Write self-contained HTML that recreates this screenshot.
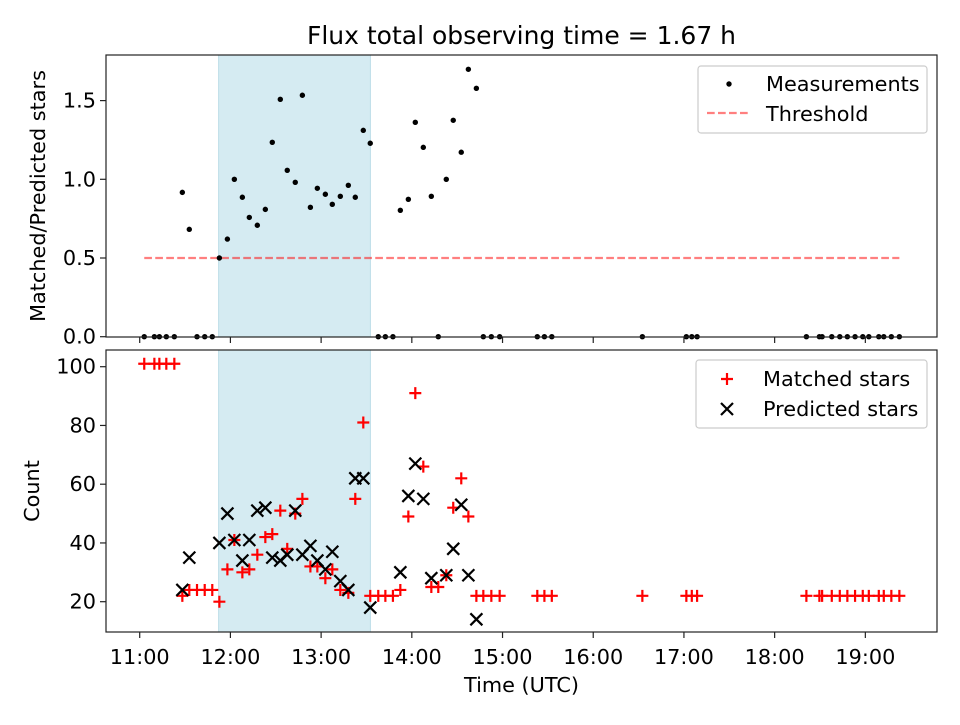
<!DOCTYPE html>
<html><head><meta charset="utf-8">
<style>
body{margin:0;background:#fff;}
svg text{font-family:"DejaVu Sans","Liberation Sans",sans-serif;fill:#000;}
</style></head>
<body>
<svg id="chart" width="960" height="720" xmlns="http://www.w3.org/2000/svg">
<rect width="960" height="720" fill="#fff"/>
<text x="521.5" y="44" font-size="25" text-anchor="middle">Flux total observing time = 1.67 h</text>
<g id="topPanel"></g>
<g id="botPanel"></g>
</svg>
<script>
// minutes since 11:00 UTC
const times = [3.0,9.7,13.0,17.6,22.9,28.2,32.8,37.9,43.0,48.0,52.7,58.0,62.6,67.9,72.5,77.8,83.1,87.7,93.0,97.6,102.9,107.6,112.9,117.5,122.8,127.4,132.7,138.0,142.6,147.9,152.5,157.8,162.5,167.5,172.4,177.7,182.3,187.6,192.9,197.5,202.8,207.4,212.7,217.4,222.7,227.3,232.6,238.1,263.0,267.7,272.6,332.5,361.6,365.2,368.7,441.0,449.6,451.4,457.8,463.1,468.1,473.2,478.3,482.3,488.9,492.2,497.2,502.5];
const ratios = [0,0,0,0,0,0.917,0.682,0,0,0,0.5,0.62,1.0,0.886,0.758,0.708,0.809,1.235,1.508,1.057,0.981,1.534,0.822,0.943,0.905,0.841,0.892,0.962,0.886,1.311,1.229,0,0,0,0.803,0.873,1.362,1.203,0.892,0,1.0,1.375,1.172,1.699,1.578,0,0,0,0,0,0,0,0,0,0,0,0,0,0,0,0,0,0,0,0,0,0,0];
const matched = [101,101,101,101,101,22,24,24,24,24,20,31,41,30,31,36,42,43,51,38,50,55,32,32,28,31,24,23,55,81,22,22,22,22,24,49,91,66,25,25,29,52,62,49,22,22,22,22,22,22,22,22,22,22,22,22,22,22,22,22,22,22,22,22,22,22,22,22];
const predicted = [null,null,null,null,null,24,35,null,null,null,40,50,41,34,41,51,52,35,34,36,51,36,39,34,31,37,27,24,62,62,18,null,null,null,30,56,67,55,28,null,29,38,53,29,14,null,null,null,null,null,null,null,null,null,null,null,null,null,null,null,null,null,null,null,null,null,null,null];
const threshold = 0.5;
const spanStart = 52.2, spanEnd = 152.6;
const xTickLabels = ["11:00","12:00","13:00","14:00","15:00","16:00","17:00","18:00","19:00"];
const topTicks = [0,0.5,1.0,1.5];
const topTickLabels = ["0.0","0.5","1.0","1.5"];
const botTicks = [20,40,60,80,100];

const NS="http://www.w3.org/2000/svg";
const L=106,R=937;
const xmin=-22.3,xmax=527.4;
const X=t=>L+(t-xmin)/(xmax-xmin)*(R-L);
const topT=55,topB=337,botT=350,botB=632;
const Yt=v=>336.7-v*157.4;
const Yb=v=>601.7-(v-20)*2.9375;
const FS=20.8;
function mk(tag,attrs,parent){const e=document.createElementNS(NS,tag);for(const k in attrs)e.setAttribute(k,attrs[k]);parent.appendChild(e);return e;}
const topG=document.getElementById('topPanel'), botG=document.getElementById('botPanel');

function spanRect(g,y0,y1){
  const s=mk('rect',{x:X(spanStart),y:y0,width:X(spanEnd)-X(spanStart),height:y1-y0,fill:'#d5ebf2',stroke:'#bcdde8','stroke-width':1},g);
  
  
}
function frameBox(g,y0,y1,showLabels){
  const b=mk('rect',{x:L,y:y0,width:R-L,height:y1-y0,fill:'none',stroke:'#222','stroke-width':1.2},g);
  
  
  xTickLabels.forEach((lab,i)=>{
    const x=X(i*60);
    const t=mk('line',{x1:x,x2:x,y1:y1,y2:y1+6,stroke:'#222','stroke-width':1.2},g);
    
    
    if(showLabels){
      const tx=mk('text',{x:x,y:y1+32,'font-size':FS,'text-anchor':'middle'},g);
      tx.textContent=lab;
      
      
    }
  });
}
function plus(g,x,y){return mk('path',{d:`M${x-6},${y}H${x+6}M${x},${y-6}V${y+6}`,stroke:'#f00','stroke-width':2.2,fill:'none'},g);}
function cross(g,x,y){return mk('path',{d:`M${x-6},${y-6}L${x+6},${y+6}M${x-6},${y+6}L${x+6},${y-6}`,stroke:'#000','stroke-width':2.2,fill:'none'},g);}

// TOP PANEL
spanRect(topG,topT,topB);
const th=mk('line',{x1:X(times[0]),x2:X(times[times.length-1]),y1:Yt(threshold),y2:Yt(threshold),stroke:'rgba(255,0,0,0.5)','stroke-width':2.2,'stroke-dasharray':'7.7,3.3'},topG);


times.forEach((t,i)=>{
  const c=mk('circle',{cx:X(t),cy:Yt(ratios[i]),r:2.7,fill:'#000'},topG);
  
  
});
frameBox(topG,topT,topB,false);
topTicks.forEach((v,i)=>{
  const y=Yt(v);
  const t=mk('line',{x1:L-6,x2:L,y1:y,y2:y,stroke:'#222','stroke-width':1.2},topG);
  
  
  const tx=mk('text',{x:L-10,y:y+7,'font-size':FS,'text-anchor':'end'},topG);
  tx.textContent=topTickLabels[i];
  
  
});
const yl1=mk('text',{x:0,y:0,'font-size':FS,'text-anchor':'middle',transform:`translate(45,${(topT+topB)/2}) rotate(-90)`},topG);
yl1.textContent='Matched/Predicted stars';


const lg1=mk('g',{},topG);


mk('rect',{x:698,y:66,width:229,height:67,rx:3,fill:'rgba(255,255,255,0.8)',stroke:'#ccc','stroke-width':1.2},lg1);
mk('circle',{cx:729,cy:84,r:2.7,fill:'#000'},lg1);
let tt=mk('text',{x:766,y:91,'font-size':FS},lg1);tt.textContent='Measurements';
mk('line',{x1:707,x2:749,y1:113,y2:113,stroke:'rgba(255,0,0,0.5)','stroke-width':2.2,'stroke-dasharray':'7.7,3.3'},lg1);
tt=mk('text',{x:766,y:121,'font-size':FS},lg1);tt.textContent='Threshold';

// BOTTOM PANEL
spanRect(botG,botT,botB);
times.forEach((t,i)=>{
  const p=plus(botG,X(t),Yb(matched[i]));
  
  
});
times.forEach((t,i)=>{
  if(predicted[i]===null)return;
  const p=cross(botG,X(t),Yb(predicted[i]));
  
  
});
frameBox(botG,botT,botB,true);
botTicks.forEach(v=>{
  const y=Yb(v);
  const t=mk('line',{x1:L-6,x2:L,y1:y,y2:y,stroke:'#222','stroke-width':1.2},botG);
  
  
  const tx=mk('text',{x:L-10,y:y+7,'font-size':FS,'text-anchor':'end'},botG);
  tx.textContent=String(v);
  
  
});
const yl2=mk('text',{x:0,y:0,'font-size':FS,'text-anchor':'middle',transform:`translate(39,${(botT+botB)/2}) rotate(-90)`},botG);
yl2.textContent='Count';


const xl=mk('text',{x:(L+R)/2,y:692,'font-size':FS,'text-anchor':'middle'},botG);
xl.textContent='Time (UTC)';


const lg2=mk('g',{},botG);


mk('rect',{x:696,y:360,width:231,height:68,rx:3,fill:'rgba(255,255,255,0.8)',stroke:'#ccc','stroke-width':1.2},lg2);
plus(lg2,727,379);
tt=mk('text',{x:763,y:386,'font-size':FS},lg2);tt.textContent='Matched stars';
cross(lg2,727,409);
tt=mk('text',{x:763,y:416,'font-size':FS},lg2);tt.textContent='Predicted stars';
</script>
</body></html>
